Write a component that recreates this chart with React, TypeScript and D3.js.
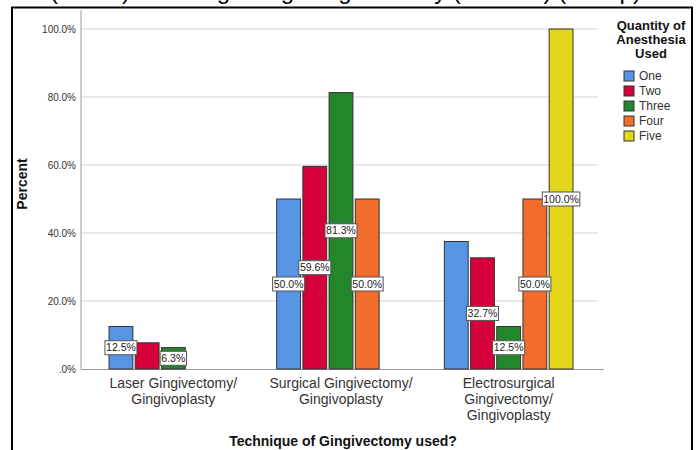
import React from "react";
import * as d3 from "d3";

const categories = [
  ["Laser Gingivectomy/", "Gingivoplasty"],
  ["Surgical Gingivectomy/", "Gingivoplasty"],
  ["Electrosurgical", "Gingivectomy/", "Gingivoplasty"],
];
const categoryKeys = ["Laser", "Surgical", "Electrosurgical"];
const seriesNames = ["One", "Two", "Three", "Four", "Five"];
const seriesColors = ["#5595e3", "#d5003a", "#24862b", "#f26c2b", "#e3d51a"];
const valuesOne = [12.5, 50.0, 37.5];
const valuesTwo = [7.7, 59.6, 32.7];
const valuesThree = [6.3, 81.3, 12.5];
const valuesFour = [0, 50.0, 50.0];
const valuesFive = [0, 0, 100.0];
const seriesValues = [valuesOne, valuesTwo, valuesThree, valuesFour, valuesFive];
// which bars carry a data label (per series, per category)
const labelShown = [
  [true, true, false],
  [false, true, true],
  [true, true, true],
  [false, true, true],
  [false, false, true],
];
const yTicks = [0, 20, 40, 60, 80, 100];
const yTickLabels = [".0%", "20.0%", "40.0%", "60.0%", "80.0%", "100.0%"];
const legendTitle = ["Quantity of", "Anesthesia", "Used"];

const FONT = "'Liberation Sans', Arial, sans-serif";

export default function App() {
  const y = d3.scaleLinear().domain([0, 100]).range([369, 29]);
  const xOuter = d3.scaleBand().domain(categoryKeys).range([89.5, 592.5]).paddingInner(0).paddingOuter(0);
  const xInner = d3
    .scaleBand()
    .domain(seriesNames)
    .range([0, xOuter.bandwidth()])
    .paddingInner(0.09)
    .paddingOuter(0.745);
  const bw = xInner.bandwidth();

  return (
    <div style={{ position: "absolute", left: 0, top: 0 }}>
      <svg width={700} height={450} style={{ display: "block", fontFamily: FONT }}>
        <rect width={700} height={450} fill="#fff" />
        {/* cropped title */}
        <text x={50} y={-1} fontSize={24} fill="#000">
          (Count) Bleeding using Gingivectomy (Percent) (Group)
        </text>
        {/* frame */}
        <path d="M12,460 L12,7.5 L692,7.5 L692,460" fill="none" stroke="#000" strokeWidth={2} />

        {/* grid */}
        {yTicks.filter((t) => t > 0).map((t) => (
          <line key={t} x1={81} x2={598} y1={y(t)} y2={y(t)} stroke="#d3d3d3" strokeWidth={1} />
        ))}
        {/* axes */}
        <line x1={81} x2={81} y1={10} y2={369.5} stroke="#9a9a9a" strokeWidth={1} />
        <line x1={81} x2={604} y1={369.5} y2={369.5} stroke="#9a9a9a" strokeWidth={1} />
        {yTicks.map((t, i) => (
          <text key={t} x={76} y={y(t)} dy="0.35em" textAnchor="end" fontSize={10} fill="#333">
            {yTickLabels[i]}
          </text>
        ))}
        <text
          transform={`translate(27,184) rotate(-90)`}
          textAnchor="middle"
          fontSize={14}
          fontWeight="bold"
          fill="#111"
        >
          Percent
        </text>

        {/* bars */}
        {categoryKeys.map((c, ci) =>
          seriesNames.map((s, si) => {
            const v = seriesValues[si][ci];
            const x0 = (xOuter(c) as number) + (xInner(s) as number);
            return (
              <rect
                key={c + s}
                x={x0}
                y={y(v)}
                width={bw}
                height={y(0) - y(v)}
                fill={seriesColors[si]}
                stroke={v === 0 ? "#888" : "#333"}
                strokeWidth={1}
              />
            );
          })
        )}
        {/* data labels */}
        {categoryKeys.map((c, ci) =>
          seriesNames.map((s, si) => {
            if (!labelShown[si][ci]) return null;
            const v = seriesValues[si][ci];
            const cx = (xOuter(c) as number) + (xInner(s) as number) + bw / 2;
            const cy = y(v / 2);
            const txt = v.toFixed(1) + "%";
            const w = txt.length * 5.6 + 4;
            return (
              <g key={"l" + c + s}>
                <rect x={cx - w / 2} y={cy - 7} width={w} height={14} fill="#fff" stroke="#555" strokeWidth={1} />
                <text x={cx} y={cy} dy="0.35em" textAnchor="middle" fontSize={10.5} fill="#222">
                  {txt}
                </text>
              </g>
            );
          })
        )}

        {/* x tick labels */}
        {categoryKeys.map((c, ci) => {
          const cx = (xOuter(c) as number) + xOuter.bandwidth() / 2;
          return (
            <text key={"x" + c} textAnchor="middle" fontSize={14} fill="#333">
              {categories[ci].map((line, li) => (
                <tspan key={li} x={cx} y={388 + li * 16}>
                  {line}
                </tspan>
              ))}
            </text>
          );
        })}
        <text x={343} y={446} textAnchor="middle" fontSize={14} fontWeight="bold" fill="#111">
          Technique of Gingivectomy used?
        </text>

        {/* legend */}
        {legendTitle.map((line, i) => (
          <text key={"lt" + i} x={651} y={30 + i * 14} textAnchor="middle" fontSize={13} fontWeight="bold" fill="#111">
            {line}
          </text>
        ))}
        {seriesNames.map((s, i) => (
          <g key={"lg" + s} transform={`translate(624,${71 + i * 15})`}>
            <rect x={0} y={0} width={10} height={10} fill={seriesColors[i]} stroke="#333" strokeWidth={1} />
            <text x={15} y={5} dy="0.35em" fontSize={12} fill="#333">
              {s}
            </text>
          </g>
        ))}
      </svg>
    </div>
  );
}
